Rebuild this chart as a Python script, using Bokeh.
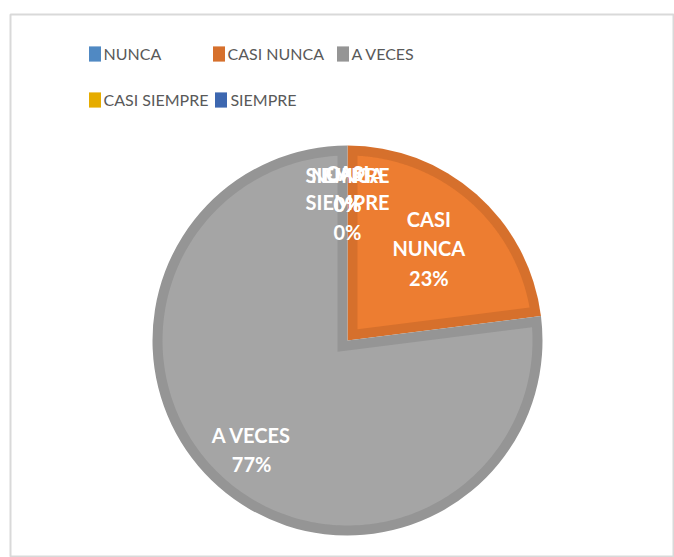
import numpy as np
from bokeh.plotting import figure
from bokeh.models import ColumnDataSource, Range1d, Legend, LegendItem, CDSView, IndexFilter
from bokeh.core.properties import value
from bokeh.embed import file_html
from bokeh.resources import INLINE

# ---- data ----
categories = ["NUNCA", "CASI NUNCA", "A VECES", "CASI SIEMPRE", "SIEMPRE"]
percents = [0, 23, 77, 0, 0]
label_names = ["NUNCA", "CASI\nNUNCA", "A VECES", "CASI\nSIEMPRE", "SIEMPRE"]

# ---- styles ----
fill_colors = ["#5B9BD5", "#ED7D31", "#A5A5A5", "#FFC000", "#4472C4"]
border_colors = ["#5089C3", "#D6702C", "#959595", "#E6AC00", "#3D67B0"]
label_radius = [151, 123, 145, 138, 151]

W, H = 674, 557
LEFT, TOP = 10, 14
FW, FH = W - LEFT, H - TOP

CX, CY = 347, H - 340
R = 195
INSET = 10

frac = np.array(percents, dtype=float) / float(sum(percents))
cum = np.concatenate([[0.0], np.cumsum(frac)])
start = np.pi / 2 - 2 * np.pi * cum[:-1]
end = np.pi / 2 - 2 * np.pi * cum[1:]
mid = (start + end) / 2
nonzero = [i for i in range(len(categories)) if percents[i] > 0]

p = figure(width=W, height=H, x_range=Range1d(LEFT, W), y_range=Range1d(0, FH),
           output_backend="svg", toolbar_location=None,
           min_border_left=LEFT, min_border_top=TOP, min_border_right=0, min_border_bottom=0,
           x_axis_location=None, y_axis_location=None)
p.grid.visible = False
p.outline_line_color = "#D9D9D9"
p.outline_line_width = 2
p.background_fill_color = "white"
p.border_fill_color = "white"

src = ColumnDataSource(dict(cat=categories, start=start, end=end,
                            fill=fill_colors, border=border_colors))
# slices (outer part = border colour), zero-size slices filtered out
p.wedge(x=CX, y=CY, radius=R, start_angle="start", end_angle="end",
        direction="clock", fill_color="border", line_color=None, source=src,
        view=CDSView(filter=IndexFilter(nonzero)))
# legend-only renderer carrying every category
leg_r = p.wedge(x=CX, y=CY, radius=0, start_angle="start", end_angle="end",
                direction="clock", fill_color="border", line_color=None, source=src)

# inner fills (border drawn inside each slice)
xs, ys, fills = [], [], []
r_in = R - INSET
for i in nonzero:
    a0, a1 = start[i], end[i]
    span = a0 - a1
    if span >= 2 * np.pi - 1e-9:
        t = np.linspace(0, 2 * np.pi, 240)
        px = CX + r_in * np.cos(t)
        py = CY + r_in * np.sin(t)
    else:
        b = (a0 + a1) / 2
        d = INSET / np.sin(span / 2)
        ax, ay = CX + d * np.cos(b), CY + d * np.sin(b)
        delta = np.arcsin(INSET / r_in)
        t = np.linspace(a0 - delta, a1 + delta, 240)
        px = np.concatenate([[ax], CX + r_in * np.cos(t)])
        py = np.concatenate([[ay], CY + r_in * np.sin(t)])
    xs.append(list(px))
    ys.append(list(py))
    fills.append(fill_colors[i])
p.patches(xs, ys, fill_color=fills, line_color=None)

# data labels
lab_src = ColumnDataSource(dict(
    x=[CX + label_radius[i] * np.cos(mid[i]) for i in range(len(categories))],
    y=[CY + label_radius[i] * np.sin(mid[i]) for i in range(len(categories))],
    text=[f"{label_names[i]}\n{percents[i]}%" for i in range(len(categories))],
))
p.text(x="x", y="y", text="text", source=lab_src, text_align="center",
       text_baseline="middle", text_font=value("Lato"), text_font_style="bold",
       text_font_size="20px", text_color="white", text_line_height=1.22)

common = dict(orientation="horizontal", glyph_width=15, glyph_height=19, label_standoff=2,
              label_width=102, label_height=19, spacing=5, padding=0, margin=0,
              border_line_color=None, background_fill_alpha=0,
              label_text_font="Lato", label_text_font_size="16px",
              label_text_color="#595959")
leg1 = Legend(items=[LegendItem(label=categories[i], renderers=[leg_r], index=i) for i in (0, 1, 2)],
              location=(76.5, 494), **common)
leg2 = Legend(items=[LegendItem(label=categories[i], renderers=[leg_r], index=i) for i in (3, 4)],
              location=(76.5, 448), **common)
p.add_layout(leg1)
p.add_layout(leg2)

open("out.html", "w").write(file_html(p, INLINE))
